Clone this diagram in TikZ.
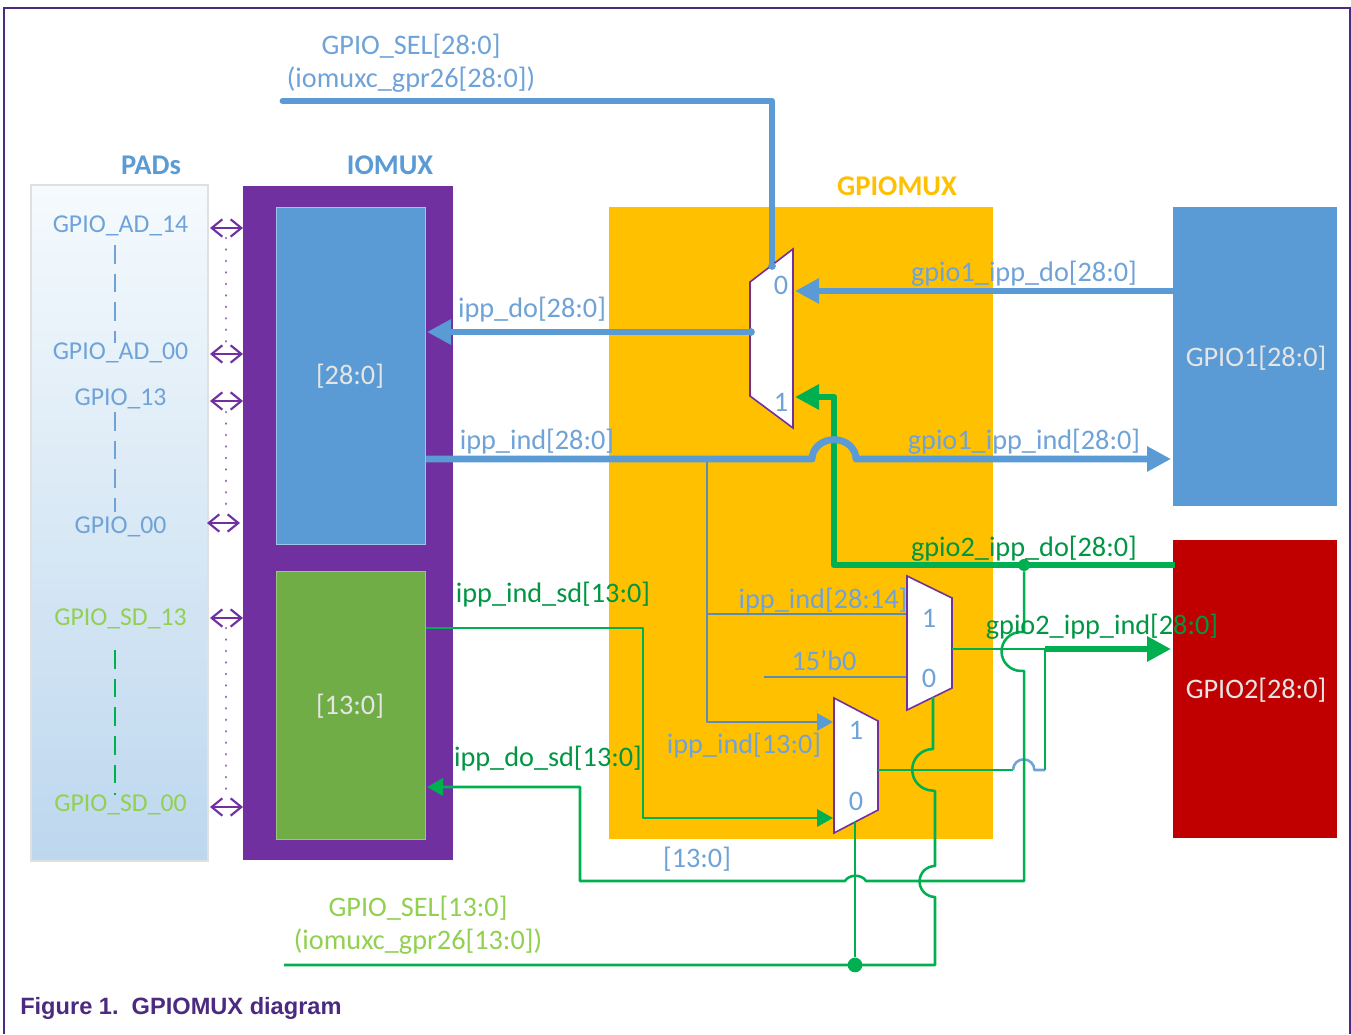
\documentclass[tikz,border=0pt]{standalone}
\usepackage{fontspec}
\setmainfont{Carlito}
\newfontfamily\capfont{Liberation Sans}
\usetikzlibrary{arrows.meta,calc}
\definecolor{bblue}{HTML}{5B9BD5}
\definecolor{lblue}{HTML}{6FA3D8}
\definecolor{pur}{HTML}{7030A0}
\definecolor{dpur}{HTML}{4B2A80}
\definecolor{ggreen}{HTML}{00B050}
\definecolor{lgreen}{HTML}{92D050}
\definecolor{mgreen}{HTML}{70AD47}
\definecolor{gold}{HTML}{FFC000}
\definecolor{dred}{HTML}{C00000}
\definecolor{padtop}{HTML}{F5FAFD}
\definecolor{padbot}{HTML}{BDD7EE}
\tikzset{
  x=0.75pt,y=-0.75pt,
  txt/.style={inner sep=0pt,font=\fontsize{21.2}{24}\selectfont},
  lab/.style={txt,text=lblue},
  glab/.style={txt,text=ggreen!85!black},
  llab/.style={txt,text=lgreen},
  wlab/.style={txt,text=white!90!black},
  padlab/.style={inner sep=0pt,font=\fontsize{19.3}{22}\selectfont},
  head/.style={inner sep=0pt,font=\fontsize{21.4}{24}\selectfont\bfseries},
  fat/.style={line width=5.2pt,line join=round},
  thin/.style={line width=1.9pt,line join=round},
  bigtip/.style={-{Triangle[length=18pt,width=18pt]}},
  midtip/.style={-{Triangle[length=12pt,width=13pt]}},
  bidir/.style={{Straight Barb[length=8pt,width=13pt,line width=1.6pt]}-{Straight Barb[length=8pt,width=13pt,line width=1.6pt]},pur,line width=1.6pt},
  muxs/.style={draw=pur,fill=white,line width=1.2pt,line join=miter},
  pin/.style={circle,fill=ggreen,inner sep=0pt,minimum size=#1},
  dots/.style={pur!75!white,line width=2pt,line cap=round,dash pattern=on 0.1pt off 8.5pt},
  longdash/.style={line width=1.8pt,dash pattern=on 14pt off 7.5pt},
}
\begin{document}
\begin{tikzpicture}
\useasboundingbox (0,0) rectangle (1351,1034);
\fill[white] (0,0) rectangle (1351,1034);
\draw[line width=2.2pt,color=dpur] (4,1034) -- (4,8) -- (1350,8) -- (1350,1034);

% blocks
\path[draw=black!12,line width=1pt,top color=padtop,bottom color=padbot] (31,185) rectangle (208,861);
\fill[pur] (243,186) rectangle (453,860);
\path[fill=bblue,draw=bblue!60!white,line width=.6pt] (276,207) rectangle (425,544);
\path[fill=mgreen,draw=mgreen!70!white,line width=.6pt] (276,571) rectangle (425,839);
\fill[gold] (609,207) rectangle (993,839);
\fill[bblue] (1173,207) rectangle (1337,506);
\fill[dred] (1173,540) rectangle (1337,838);

% block names
\node[head,text=bblue] (tpads) at (151,165) {PADs};
\node[head,text=bblue] (tiomux) at (390,165) {IOMUX};
\node[head,text=gold] (tgpiomux) at (897,186) {GPIOMUX};

% coordinates
\coordinate (selA) at (283,101);
\coordinate (selAend) at (772,265);
\coordinate (m1in0) at (795,291);
\coordinate (m1in1) at (795,397);
\coordinate (m1out) at (751,332);
\coordinate (g1do) at (1173,291);
\coordinate (g1ind) at (1171,459);
\coordinate (g2do) at (1175,565);
\coordinate (g2ind) at (1171,649);
\coordinate (bdo) at (427,332);
\coordinate (bind) at (426,459);
\coordinate (sdind) at (426,628);
\coordinate (sddo) at (427,787);
\coordinate (m2in1) at (907,614);
\coordinate (m2in0) at (907,677);
\coordinate (zero) at (764,677);
\coordinate (m2out) at (952,649);
\coordinate (m2sel) at (933,697);
\coordinate (m3in1) at (833,722);
\coordinate (m3in0) at (833,818);
\coordinate (m3out) at (878,770);
\coordinate (m3sel) at (855,822);
\coordinate (selB) at (284,965);
\coordinate (tap) at (707,614);

% thin blue
\draw[thin,color=lblue!85!black] (707,459) -- (tap) -- (m2in1);
\draw[thin,color=lblue!85!black] (zero) -- (m2in0);
\draw[thin,color=lblue!85!black] (tap) -- (707,722) -- (820,722);
\draw[thin,color=bblue,midtip] (820,722) -- (m3in1);

% thick blue
\draw[fat,color=bblue,line cap=round] (selA) -- (772,101) -- (selAend);
\draw[fat,color=bblue,bigtip] (g1do) -- (m1in0);
\draw[fat,color=bblue,bigtip] (m1out) -- (bdo);

% thick green
\draw[fat,color=ggreen,bigtip] (g2do) -- (834,565) -- (834,397) -- (m1in1);

% hop of ipp_ind over green
\draw[fat,color=bblue,bigtip] (bind) -- (812,459) arc[start angle=180,end angle=0,x radius=16.5pt,y radius=14.5pt] -- (g1ind);

% muxes
\draw[muxs] (750,282) -- (793,249) -- (793,428) -- (750,396) -- cycle;
\draw[muxs] (907,576) -- (952,598) -- (952,688) -- (907,710) -- cycle;
\draw[muxs] (834,698) -- (878,721) -- (878,810) -- (834,833) -- cycle;
\fill[bblue] (772,266) circle (2.9pt);
\fill[bblue] (751,332) circle (2.9pt);

% thin green
\draw[thin,color=ggreen,midtip] (sdind) -- (643,628) -- (643,818) -- (m3in0);
\draw[thin,color=ggreen] (m2out) -- (1045,649);
\draw[fat,color=ggreen,bigtip] (1045,649) -- (g2ind);
\draw[thin,color=ggreen] (m3out) -- (1013,770);
\draw[thin,color=lblue] (1013,770) arc[start angle=180,end angle=0,radius=8pt] -- (1045,770);
\draw[thin,color=ggreen] (1045,770) -- (1045,649);
\draw[thin,color=ggreen] (m2sel) -- (933,749)
   arc[start angle=90,end angle=270,radius=15.6pt] -- (935,791) -- (935,866)
   arc[start angle=90,end angle=270,radius=11.6pt] -- (935,897) -- (935,965) -- (selB);
\node[pin=9pt] (dotA) at (1024,565) {};
\node[pin=11pt] (dotB) at (855,965) {};
\draw[thin,color=ggreen] (dotB) -- (m3sel);
\draw[thin,color=ggreen,midtip] (dotA) -- (1024,632) -- (1021,632)
   arc[start angle=90,end angle=270,radius=14.6pt] -- (1024,671) -- (1024,881)
   -- (866,881) .. controls (862,874) and (849,874) .. (845,881)
   -- (580,881) -- (580,787) -- (sddo);

% pads arrows
\coordinate (ioA) at (243,228);
\coordinate (ioB) at (243,354);
\coordinate (ioC) at (243,401);
\coordinate (ioD) at (240,523);
\coordinate (ioE) at (243,618);
\coordinate (ioF) at (243,807);
\draw[bidir] (210,228) -- (ioA);
\draw[bidir] (210,354) -- (ioB);
\draw[bidir] (210,401) -- (ioC);
\draw[bidir] (207,523) -- (ioD);
\draw[bidir] (210,618) -- (ioE);
\draw[bidir] (210,807) -- (ioF);
\draw[dots] (226,238) -- (226,345);
\draw[dots] (226,412) -- (226,515);
\draw[dots] (226,628) -- (226,798);

\draw[lblue,longdash] (115,245) -- (115,343);
\draw[lblue,longdash] (115,412) -- (115,512);
\draw[ggreen,longdash] (115,650) -- (115,795);

% texts
\node[lab] (t1) at (411,46) {GPIO\_SEL[28:0]};
\node[lab] (t2) at (411,80) {(iomuxc\_gpr26[28:0])};
\node[padlab,text=lblue] (p1) at (120.5,226) {GPIO\_AD\_14};
\node[padlab,text=lblue] (p2) at (120.5,353) {GPIO\_AD\_00};
\node[padlab,text=lblue] (p3) at (120.5,399) {GPIO\_13};
\node[padlab,text=lblue] (p4) at (120.5,527) {GPIO\_00};
\node[padlab,text=lgreen] (p5) at (120.5,619) {GPIO\_SD\_13};
\node[padlab,text=lgreen] (p6) at (120.5,805) {GPIO\_SD\_00};
\node[wlab] (b1) at (350,376) {[28:0]};
\node[wlab] (b2) at (350,706) {[13:0]};
\node[wlab] (b3) at (1256,358) {GPIO1[28:0]};
\node[wlab] (b4) at (1256,690) {GPIO2[28:0]};
\node[lab] (w1) at (532,310) {ipp\_do[28:0]};
\node[lab] (w2) at (537,442) {ipp\_ind[28:0]};
\node[glab] (w3) at (553,595) {ipp\_ind\_sd[13:0]};
\node[glab] (w4) at (548,759) {ipp\_do\_sd[13:0]};
\node[lab] (w5) at (1024,274) {gpio1\_ipp\_do[28:0]};
\node[lab] (w6) at (1024,442) {gpio1\_ipp\_ind[28:0]};
\node[glab] (w7) at (1024,549) {gpio2\_ipp\_do[28:0]};
\node[glab] (w8) at (1102,627) {gpio2\_ipp\_ind[28:0]};
\node[lab] (w9) at (823,601) {ipp\_ind[28:14]};
\node[lab] (w10) at (824,661) {15'b0};
\node[lab] (w11) at (744,746) {ipp\_ind[13:0]};
\node[lab] (w12) at (697,859) {[13:0]};
\node[llab] (t3) at (418,908) {GPIO\_SEL[13:0]};
\node[llab] (t4) at (418,942) {(iomuxc\_gpr26[13:0])};
\node[lab] (n1) at (781,285) {0};
\node[lab] (n2) at (781,402) {1};
\node[lab] (n3) at (929,618) {1};
\node[lab] (n4) at (929,678) {0};
\node[lab] (n5) at (856,730) {1};
\node[lab] (n6) at (856,801) {0};
\node[anchor=west,inner sep=0pt,text=dpur,font=\capfont\fontsize{17.7}{20}\selectfont\bfseries] (cap) at (20,1008) {Figure 1.\ \ GPIOMUX diagram};
\end{tikzpicture}
\end{document}
